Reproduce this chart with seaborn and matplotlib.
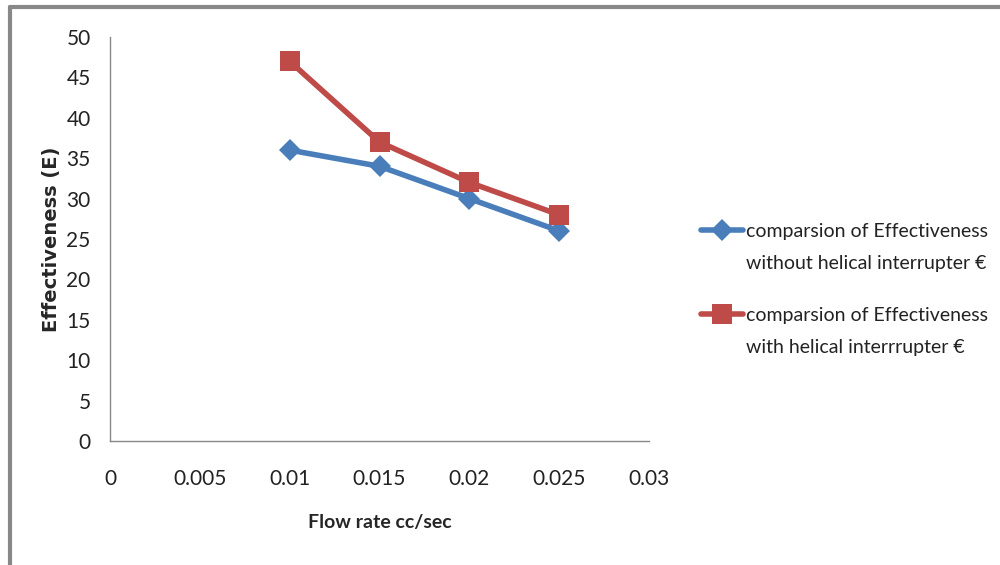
import matplotlib
matplotlib.use("Agg")
import matplotlib.pyplot as plt
import seaborn as sns
import pandas as pd
from matplotlib.lines import Line2D

flow_rate = [0.01, 0.015, 0.02, 0.025]
without_helical = [36, 34, 30, 26]
with_helical = [47, 37, 32, 28]
series_names = ["comparsion of Effectiveness\nwithout helical interrupter €",
                "comparsion of Effectiveness\nwith helical interrrupter €"]
x_ticks = [0, 0.005, 0.01, 0.015, 0.02, 0.025, 0.03]
x_tick_labels = ["0", "0.005", "0.01", "0.015", "0.02", "0.025", "0.03"]
y_ticks = [0, 5, 10, 15, 20, 25, 30, 35, 40, 45, 50]

df = pd.DataFrame({
    "flow": flow_rate * 2,
    "E": without_helical + with_helical,
    "series": [series_names[0]] * 4 + [series_names[1]] * 4,
})

sns.set_style("white")
plt.rcParams['font.family'] = ['Lato', 'DejaVu Sans']

fig = plt.figure(figsize=(10, 5.65), dpi=100)
ax = fig.add_axes([0.11, 0.2195, 0.539, 0.715])

colors = ["#4A7EBB", "#BE4B48"]
markers = ["D", "s"]
sizes = [11, 14]
for i, name in enumerate(series_names):
    sub = df[df["series"] == name]
    sns.lineplot(data=sub, x="flow", y="E", ax=ax, color=colors[i], lw=4,
                 marker=markers[i], markersize=sizes[i], markeredgewidth=0,
                 label=name, legend=False)

ax.set_xlim(0, 0.03)
ax.set_ylim(0, 50)
ax.set_xticks(x_ticks)
ax.set_xticklabels(x_tick_labels)
ax.set_yticks(y_ticks)
ax.tick_params(axis='both', length=0, labelsize=15, colors="#222222")
ax.tick_params(axis='x', pad=20)
ax.tick_params(axis='y', pad=14)
for s in ["top", "right"]:
    ax.spines[s].set_visible(False)
for s in ["left", "bottom"]:
    ax.spines[s].set_color("#888888")
    ax.spines[s].set_linewidth(1)

ax.set_xlabel("Flow rate cc/sec", fontsize=14, fontweight="bold", labelpad=18)
ax.set_ylabel("Effectiveness (E)", fontsize=14, fontweight="bold", labelpad=4,
              family=["DejaVu Sans"])

# legends: one per series, handle aligned with first text line
handles, labels = ax.get_legend_handles_labels()
blank = Line2D([], [], color="none")
anchors = [0.606, 0.606 - 84 / 565]
for h, lab, ya in zip(handles, labels, anchors):
    first, second = lab.split("\n")
    lg = fig.legend([h, blank], [first, second], loc="upper left",
                    bbox_to_anchor=(0.701, ya), frameon=False, fontsize=14,
                    handlelength=2.15, handletextpad=0.15, labelspacing=0.8,
                    borderpad=0, borderaxespad=0)
    for t in lg.get_texts():
        t.set_color("#222222")

# outer frame lines
fig.add_artist(Line2D([0.01, 1.0], [0.988, 0.988], color="#888888", lw=3,
                      transform=fig.transFigure))
fig.add_artist(Line2D([0.01, 0.01], [0.0, 0.988], color="#888888", lw=3,
                      transform=fig.transFigure))

fig.savefig("out.png", dpi=100)
